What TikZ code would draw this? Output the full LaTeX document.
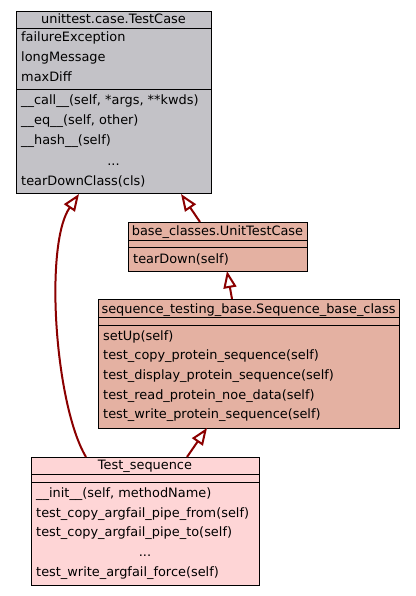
\documentclass[tikz,border=0pt]{standalone}
\usepackage{fontspec}
\setmainfont{DejaVu Sans}
\usetikzlibrary{arrows.meta}
\definecolor{grayfill}{HTML}{C3C2C7}
\definecolor{salmonfill}{HTML}{E4B1A2}
\definecolor{pinkfill}{HTML}{FED5D6}
\definecolor{edgered}{HTML}{8B0000}
\tikzset{
  classbox/.style={draw=black, line width=1pt, inner sep=0pt, anchor=north west},
  sep/.style={draw=black, line width=1pt},
  txt/.style={anchor=base west, inner sep=0pt, font=\fontsize{12.9}{14}\selectfont},
  ttl/.style={anchor=base, inner sep=0pt, font=\fontsize{12.9}{14}\selectfont},
  inh/.style={draw=edgered, line width=2pt, -{Triangle[open, length=17pt, width=13pt, line width=2pt]}},
}
\begin{document}
\begin{tikzpicture}[x=1pt,y=-1pt]
\useasboundingbox (0,0) rectangle (415,596);
\fill[white] (0,0) rectangle (415,596);
% TestCase
\node[classbox, fill=grayfill, minimum width=195pt, minimum height=182pt] (tc) at (16,11) {};
\draw[sep] (16,29) -- (211,29);
\draw[sep] (16,90) -- (211,90);
\node[ttl] (tct) at (113.5,24) {unittest.case.TestCase};
\node[txt] (tca1) at (21,42) {failureException};
\node[txt] (tca2) at (21,62) {longMessage};
\node[txt] (tca3) at (21,82) {maxDiff};
\node[txt] (tcm1) at (21,105) {\_\_call\_\_(self, *args, **kwds)};
\node[txt] (tcm2) at (21,125) {\_\_eq\_\_(self, other)};
\node[txt] (tcm3) at (21,145) {\_\_hash\_\_(self)};
\node[ttl] (tcm4) at (113.5,165) {...};
\node[txt] (tcm5) at (21,185) {tearDownClass(cls)};
% UnitTestCase
\node[classbox, fill=salmonfill, minimum width=179pt, minimum height=49pt] (ut) at (128,222) {};
\draw[sep] (128,240) -- (307,240);
\draw[sep] (128,247) -- (307,247);
\node[ttl] (utt) at (217.5,235) {base\_classes.UnitTestCase};
\node[txt] (utm1) at (133,263) {tearDown(self)};
% Sequence_base_class
\node[classbox, fill=salmonfill, minimum width=301pt, minimum height=129pt] (sb) at (98,299) {};
\draw[sep] (98,317) -- (399,317);
\draw[sep] (98,325) -- (399,325);
\node[ttl] (sbt) at (248.5,313) {sequence\_testing\_base.Sequence\_base\_class};
\node[txt] (sbm1) at (103,340) {setUp(self)};
\node[txt] (sbm2) at (103,359.5) {test\_copy\_protein\_sequence(self)};
\node[txt] (sbm3) at (103,379) {test\_display\_protein\_sequence(self)};
\node[txt] (sbm4) at (103,399) {test\_read\_protein\_noe\_data(self)};
\node[txt] (sbm5) at (103,418.5) {test\_write\_protein\_sequence(self)};
% Test_sequence
\node[classbox, fill=pinkfill, minimum width=228pt, minimum height=128pt] (ts) at (31,457) {};
\draw[sep] (31,474) -- (259,474);
\draw[sep] (31,482) -- (259,482);
\node[ttl] (tst) at (145,469) {Test\_sequence};
\node[txt] (tsm1) at (36,497) {\_\_init\_\_(self, methodName)};
\node[txt] (tsm2) at (36,517) {test\_copy\_argfail\_pipe\_from(self)};
\node[txt] (tsm3) at (36,536) {test\_copy\_argfail\_pipe\_to(self)};
\node[ttl] (tsm4) at (145,556) {...};
\node[txt] (tsm5) at (36,576) {test\_write\_argfail\_force(self)};
% inheritance edges
\coordinate (utTop) at (200,222);
\coordinate (tcB1) at (181,194);
\coordinate (sbTop) at (232,299);
\coordinate (utB) at (227,271);
\coordinate (tsTop) at (187,457);
\coordinate (sbB) at (207,428);
\coordinate (tsTop2) at (86,457);
\coordinate (tcB2) at (79,194);
\draw[inh] (utTop) -- (tcB1);
\draw[inh] (sbTop) -- (utB);
\draw[inh] (tsTop) -- (sbB);
\draw[inh] (tsTop2) .. controls (55,405) and (44,245) .. (tcB2);
\end{tikzpicture}
\end{document}
